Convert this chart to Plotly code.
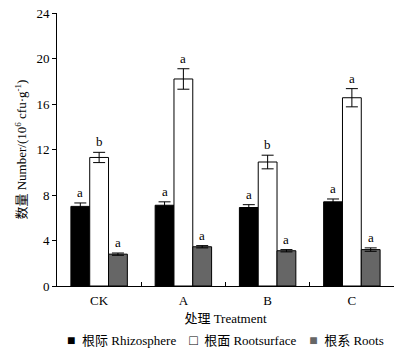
import plotly.graph_objects as go

categories = ["CK", "A", "B", "C"]
rhizo = [7.0, 7.1, 6.9, 7.4]
rhizo_err = [0.3, 0.3, 0.25, 0.25]
rhizo_sig = ["a", "a", "a", "a"]
surface = [11.3, 18.2, 10.9, 16.55]
surface_err = [0.45, 0.9, 0.6, 0.8]
surface_sig = ["b", "a", "b", "a"]
roots = [2.8, 3.45, 3.1, 3.2]
roots_err = [0.1, 0.1, 0.1, 0.15]
roots_sig = ["a", "a", "a", "a"]
y_ticks = [0, 4, 8, 12, 16, 20, 24]

serif = "Liberation Serif, Times New Roman, Noto Sans CJK SC, serif"
x = list(range(len(categories)))

series = [
    ("根际 Rhizosphere", rhizo, rhizo_err, rhizo_sig, "#000000"),
    ("根面 Rootsurface", surface, surface_err, surface_sig, "#ffffff"),
    ("根系 Roots", roots, roots_err, roots_sig, "#666666"),
]

fig = go.Figure()
for name, vals, errs, sig, col in series:
    fig.add_trace(go.Bar(
        x=x, y=vals, name=name,
        marker=dict(color=col, line=dict(color="#000000", width=1)),
        error_y=dict(type="data", array=errs, color="#000000", thickness=1, width=6),
        showlegend=False,
    ))

# significance letters
annotations = []
n = len(series)
group_w = 1 - 0.33
bar_w = group_w / n
for i, (name, vals, errs, sig, col) in enumerate(series):
    for j in range(len(categories)):
        annotations.append(dict(
            x=j - group_w / 2 + bar_w * (i + 0.5), y=vals[j] + errs[j],
            xref="x", yref="y", text=sig[j], showarrow=False,
            yanchor="bottom", yshift=1,
            font=dict(family=serif, size=13, color="#000000"),
        ))

# legend row
legend_parts = []
for name, vals, errs, sig, col in series:
    if col == "#ffffff":
        sym = "<span style='font-size:14px'>□</span>"
    else:
        sym = "<span style='color:%s;font-size:14px'>■</span>" % col
    legend_parts.append(sym + "&nbsp; " + name)
annotations.append(dict(
    x=0.5, y=-0.2, xref="paper", yref="paper", xanchor="center", yanchor="middle",
    text="&nbsp;&nbsp;&nbsp; ".join(legend_parts), showarrow=False,
    font=dict(family=serif, size=13, color="#000000"),
))

# y-axis title
annotations.append(dict(
    x=-0.074, y=0.5, xref="paper", yref="paper", xanchor="center", yanchor="middle",
    xshift=-12,
    text="数量 Number/(10<sup>6</sup> cfu·g<sup>-1</sup>)", textangle=-90,
    showarrow=False, font=dict(family=serif, size=13, color="#000000"),
))

fig.update_layout(
    width=404, height=351,
    margin=dict(l=57, r=10, t=13, b=65, autoexpand=False),
    paper_bgcolor="white", plot_bgcolor="white",
    barmode="group", bargap=0.33, bargroupgap=0,
    font=dict(family=serif, size=13, color="#000000"),
    showlegend=False,
    annotations=annotations,
    xaxis=dict(range=[-0.5, 3.5], tickvals=x, ticktext=categories, ticks="",
               ticklabelstandoff=2,
               showline=True, linecolor="#000000", linewidth=1, showgrid=False,
               zeroline=False, automargin=False, tickfont=dict(family=serif, size=13),
               title=dict(text="处理 Treatment", standoff=7,
                          font=dict(family=serif, size=13))),
    xaxis2=dict(range=[-0.5, 3.5], overlaying="x", anchor="y", side="bottom",
                tickvals=[0.5, 1.5, 2.5, 3.5], ticks="inside", ticklen=4,
                tickcolor="#000000", showticklabels=False, showgrid=False,
                zeroline=False, showline=False, automargin=False),
    yaxis=dict(range=[0, 24], tickvals=y_ticks, ticks="outside", ticklen=4,
               tickcolor="#000000", showline=True, linecolor="#000000",
               linewidth=1, showgrid=False, zeroline=False, automargin=False,
               tickfont=dict(family=serif, size=13)),
)
fig.add_trace(go.Scatter(x=[None], y=[None], xaxis="x2", yaxis="y",
                         showlegend=False, hoverinfo="skip"))

fig.write_html("out.html", config={"displayModeBar": False},
               post_script="document.body.style.margin='0';document.body.style.overflow='hidden';")
